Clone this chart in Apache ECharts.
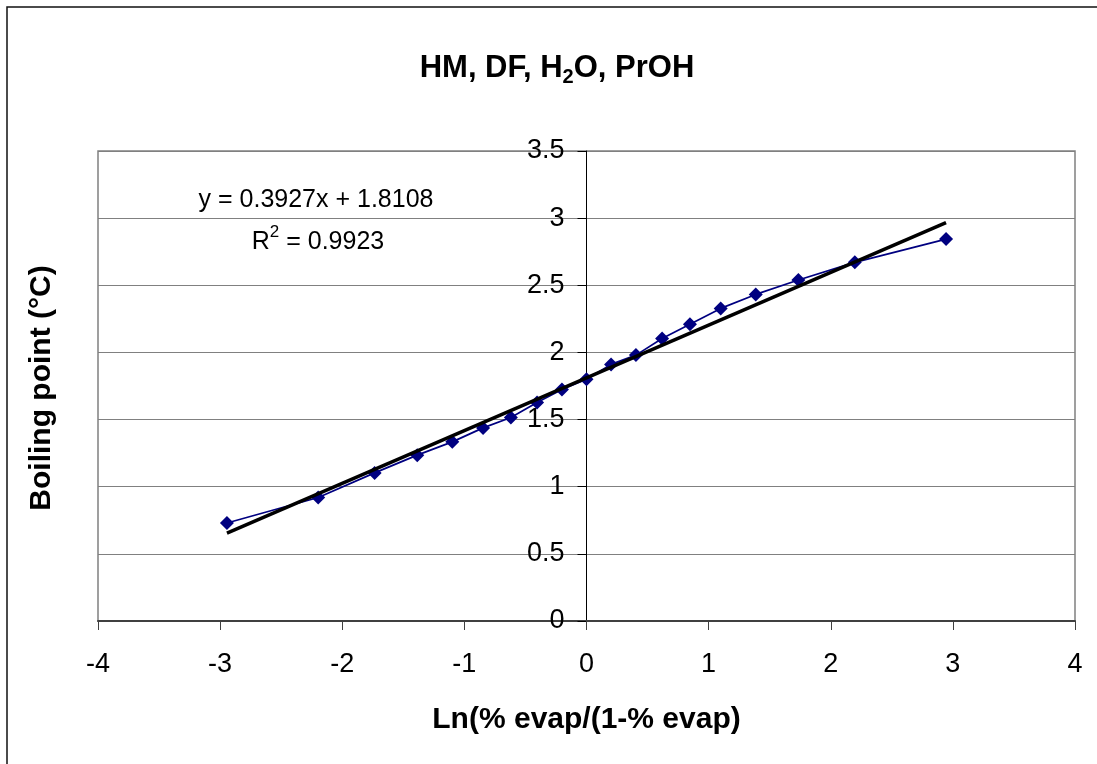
<!DOCTYPE html>
<html>
<head>
<meta charset="utf-8">
<script src="https://cdn.jsdelivr.net/npm/echarts@6/dist/echarts.min.js"></script>
<style>
html,body{margin:0;padding:0;background:#fff;}
#chart{width:1097px;height:764px;}
</style>
</head>
<body>
<div id="chart"></div>
<script>
// Data
var xValues = [-2.944, -2.197, -1.735, -1.386, -1.099, -0.847, -0.619, -0.405, -0.201, 0, 0.201, 0.405, 0.619, 0.847, 1.099, 1.386, 1.735, 2.197, 2.944];
var yValues = [0.730, 0.920, 1.103, 1.235, 1.334, 1.438, 1.516, 1.627, 1.724, 1.801, 1.911, 1.980, 2.104, 2.209, 2.328, 2.432, 2.539, 2.671, 2.844];
var slope = 0.3927;
var intercept = 1.8108;
var rSquared = 0.9923;
var xTicks = [-4, -3, -2, -1, 0, 1, 2, 3, 4];
var yTicks = [0, 0.5, 1, 1.5, 2, 2.5, 3, 3.5];

var FONT = 'Liberation Sans, Arial, sans-serif';
var pts = xValues.map(function (x, i) { return [x, yValues[i]]; });
var xFirst = xValues[0], xLast = xValues[xValues.length - 1];
var trend = [[xFirst, slope * xFirst + intercept], [xLast, slope * xLast + intercept]];

var GRID_L = 98, GRID_R = 22;
var gridW = 1097 - GRID_L - GRID_R;
var xMin = xTicks[0], xMax = xTicks[xTicks.length - 1];
// shift the y axis (line, ticks, labels) to where x = 0
var yAxisOffset = -gridW * (0 - xMin) / (xMax - xMin);

var chart = echarts.init(document.getElementById('chart'), null, {renderer: 'canvas'});
chart.setOption({
  backgroundColor: '#ffffff',
  animation: false,
  grid: {left: GRID_L, right: GRID_R, top: 151, bottom: 143, show: true, borderColor: '#808080', borderWidth: 1.5, backgroundColor: 'transparent'},
  graphic: [
    {type: 'rect', shape: {x: 7, y: 7, width: 1200, height: 900}, style: {fill: 'none', stroke: '#111', lineWidth: 1.5}, z: -10, silent: true},
    {type: 'text', x: 557, y: 68, style: {
      text: '{a|HM, DF, H}{sub|2}{a|O, PrOH}', textAlign: 'center', textVerticalAlign: 'middle',
      rich: {
        a: {fontFamily: FONT, fontWeight: 'bold', fontSize: 31, lineHeight: 38, fill: '#000', verticalAlign: 'middle'},
        sub: {fontFamily: FONT, fontWeight: 'bold', fontSize: 20, lineHeight: 20, fill: '#000', verticalAlign: 'bottom'}
      }}},
    {type: 'text', x: 316, y: 200, style: {
      text: 'y = ' + slope + 'x + ' + intercept, textAlign: 'center', textVerticalAlign: 'middle',
      fontFamily: FONT, fontSize: 25, fill: '#000'}},
    {type: 'text', x: 318, y: 242, style: {
      text: '{a|R}{sup|2}{a| = ' + rSquared + '}', textAlign: 'center', textVerticalAlign: 'middle',
      rich: {
        a: {fontFamily: FONT, fontSize: 25, lineHeight: 36, fill: '#000', verticalAlign: 'middle'},
        sup: {fontFamily: FONT, fontSize: 17, lineHeight: 17, fill: '#000', verticalAlign: 'top'}
      }}},
    {type: 'text', x: 42, y: 388, rotation: Math.PI / 2, style: {
      text: 'Boiling point (°C)', textAlign: 'center', textVerticalAlign: 'middle',
      fontFamily: FONT, fontWeight: 'bold', fontSize: 30, fill: '#000'}}
  ],
  xAxis: {
    type: 'value', min: xMin, max: xMax, interval: 1,
    name: 'Ln(% evap/(1-% evap)', nameLocation: 'middle', nameGap: 84,
    nameTextStyle: {fontFamily: FONT, fontWeight: 'bold', fontSize: 30, color: '#000'},
    axisLine: {onZero: false, lineStyle: {color: '#404040', width: 2}},
    axisTick: {show: true, inside: false, length: 9, lineStyle: {color: '#404040', width: 1}},
    axisLabel: {margin: 30, fontFamily: FONT, fontSize: 27, color: '#000',
      formatter: function (v) { return String(v); }},
    splitLine: {show: false}
  },
  yAxis: {
    type: 'value', min: yTicks[0], max: yTicks[yTicks.length - 1], interval: 0.5,
    position: 'left', offset: yAxisOffset,
    axisLine: {show: true, onZero: false, lineStyle: {color: '#000', width: 1}},
    axisTick: {show: true, inside: false, length: 9, lineStyle: {color: '#000', width: 1}},
    axisLabel: {margin: 22, fontFamily: FONT, fontSize: 27, color: '#000',
      formatter: function (v) { return String(v); }},
    splitLine: {show: true, lineStyle: {color: '#808080', width: 1}}
  },
  series: [
    {type: 'line', name: 'data', data: pts, symbol: 'diamond', symbolSize: 14,
      lineStyle: {color: '#000080', width: 1.7}, itemStyle: {color: '#000080'}, z: 3},
    {type: 'line', name: 'trend', data: trend, symbol: 'none',
      lineStyle: {color: '#000', width: 3.5}, z: 4}
  ]
});
</script>
</body>
</html>
